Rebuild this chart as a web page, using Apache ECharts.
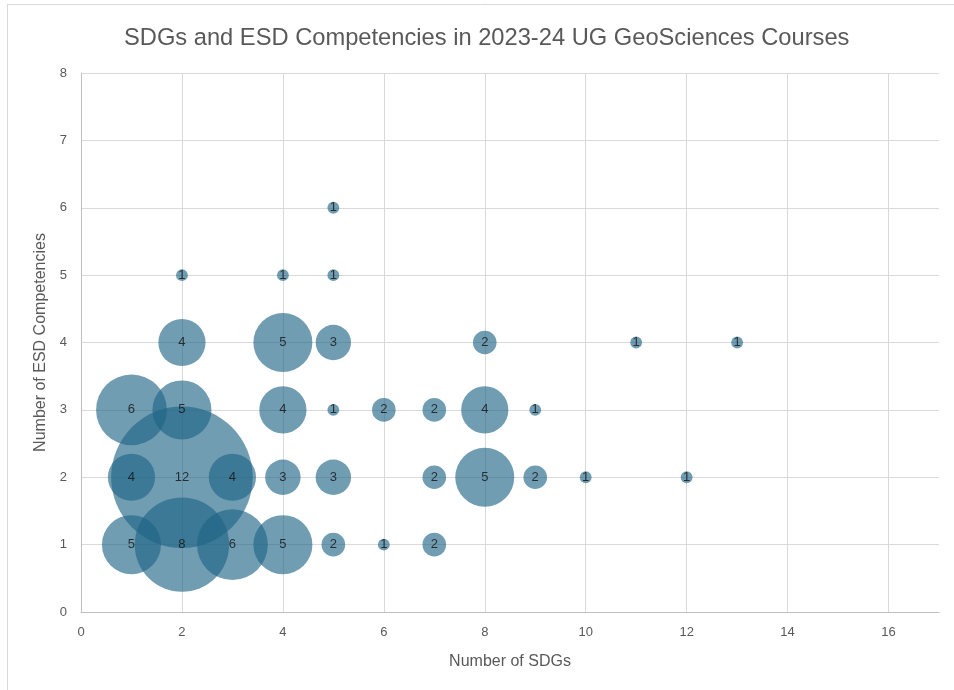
<!DOCTYPE html>
<html>
<head>
<meta charset="utf-8">
<script src="https://cdn.jsdelivr.net/npm/echarts@6/dist/echarts.min.js"></script>
<style>
  html, body { margin: 0; padding: 0; background: #ffffff; }
  #chart { width: 954px; height: 690px; }
</style>
</head>
<body>
<div id="chart"></div>
<script>
// Number of SDGs addressed by each course group (x)
const sdgs = [5, 2, 4, 5, 2, 4, 5, 8, 11, 13, 1, 2, 4, 5, 6, 7, 8, 9, 1, 2, 3, 4, 5, 7, 8, 9, 10, 12, 1, 2, 3, 4, 5, 6, 7];
// Number of ESD competencies (y)
const competencies = [6, 5, 5, 5, 4, 4, 4, 4, 4, 4, 3, 3, 3, 3, 3, 3, 3, 3, 2, 2, 2, 2, 2, 2, 2, 2, 2, 2, 1, 1, 1, 1, 1, 1, 1];
// Number of courses sharing that combination (bubble size and label)
const courses = [1, 1, 1, 1, 4, 5, 3, 2, 1, 1, 6, 5, 4, 1, 2, 2, 4, 1, 4, 12, 4, 3, 3, 2, 5, 2, 1, 1, 5, 8, 6, 5, 2, 1, 2];

const titleText = 'SDGs and ESD Competencies in 2023-24 UG GeoSciences Courses';
const xName = 'Number of SDGs';
const yName = 'Number of ESD Competencies';

const points = sdgs.map((x, i) => [x, competencies[i], courses[i]]);

const textGrey = '#595959';
const gridGrey = '#d9d9d9';
const font = '"Liberation Sans", Arial, sans-serif';

const chart = echarts.init(document.getElementById('chart'), null, { renderer: 'canvas' });
chart.setOption({
  backgroundColor: '#ffffff',
  animation: false,
  title: {
    text: titleText,
    left: 119,
    top: 21,
    textStyle: { color: textGrey, fontSize: 23.7, fontWeight: 'normal', fontFamily: font }
  },
  grid: { left: 81, right: 15, top: 73, bottom: 78 },
  xAxis: {
    type: 'value',
    min: 0,
    max: 17,
    interval: 2,
    name: xName,
    nameLocation: 'middle',
    nameGap: 42,
    nameTextStyle: { color: textGrey, fontSize: 16, fontFamily: font },
    axisLine: { show: true, lineStyle: { color: '#bfbfbf', width: 1 } },
    axisTick: { show: false },
    axisLabel: { color: textGrey, fontSize: 13, fontFamily: font, margin: 14, showMaxLabel: false },
    splitLine: { show: true, showMaxLine: false, lineStyle: { color: gridGrey, width: 1 } }
  },
  yAxis: {
    type: 'value',
    min: 0,
    max: 8,
    interval: 1,
    name: yName,
    nameLocation: 'middle',
    nameGap: 29,
    nameTextStyle: { color: textGrey, fontSize: 16, fontFamily: font },
    axisLine: { show: true, lineStyle: { color: '#bfbfbf', width: 1 } },
    axisTick: { show: false },
    axisLabel: { color: textGrey, fontSize: 13, fontFamily: font, margin: 14 },
    splitLine: { show: true, lineStyle: { color: gridGrey, width: 1 } }
  },
  graphic: [
    { type: 'line', shape: { x1: 7, y1: 4.5, x2: 954, y2: 4.5 }, style: { stroke: '#d9d9d9', lineWidth: 1 }, silent: true },
    { type: 'line', shape: { x1: 7.5, y1: 4, x2: 7.5, y2: 690 }, style: { stroke: '#d9d9d9', lineWidth: 1 }, silent: true }
  ],
  series: [{
    type: 'scatter',
    data: points,
    symbol: 'circle',
    // bubble diameter grows linearly with the course count
    symbolSize: (v) => v[2] * 11.8,
    itemStyle: { color: 'rgba(30, 100, 133, 0.79)' },
    label: {
      show: true,
      position: 'inside',
      formatter: (p) => String(p.value[2]),
      color: '#111111',
      fontSize: 13,
      fontFamily: font
    },
    labelLayout: { hideOverlap: false },
    emphasis: { disabled: true }
  }]
});
</script>
</body>
</html>
